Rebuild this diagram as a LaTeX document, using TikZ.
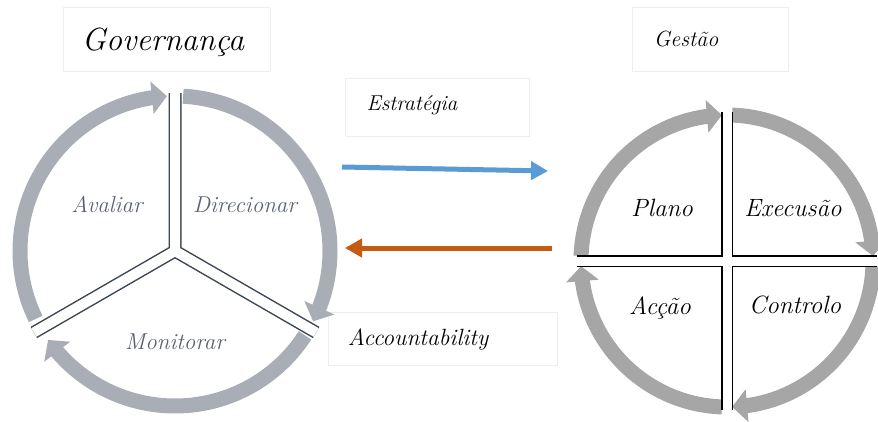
\documentclass[tikz,border=0pt]{standalone}
\usetikzlibrary{arrows.meta,bending}
\definecolor{ringL}{HTML}{A9ADB5}
\definecolor{ringR}{HTML}{A6A6A6}
\definecolor{sepL}{HTML}{3F4756}
\definecolor{lblL}{HTML}{596173}
\definecolor{boxline}{HTML}{EDEDED}
\definecolor{arrBlue}{HTML}{5B9BD5}
\definecolor{arrOrange}{HTML}{C55A11}
\begin{document}
\begin{tikzpicture}[x=1pt,y=-1pt,
  ringarrowL/.style={draw=ringL,line width=15pt,-{Triangle[length=15pt,width=32pt,flex]}},
  ringarrowR/.style={draw=ringR,line width=15pt,-{Triangle[length=15pt,width=32pt,flex]}},
  titlebox/.style={draw=boxline,line width=1pt,fill=white},
  lblleft/.style={font=\itshape\fontsize{23}{26}\selectfont,text=lblL},
  lblright/.style={font=\itshape\fontsize{25}{28}\selectfont},
  flowarrow/.style={line width=5pt,-{Triangle[length=17pt,width=18pt]}}]
\useasboundingbox (0,0) rectangle (878,421);

% ---------- title boxes ----------
\draw[titlebox] (63,7) rectangle (270,71);
\node[font=\itshape\fontsize{32}{36}\selectfont] (gov) at (163,42) {Governança};
\draw[titlebox] (632,7) rectangle (788,71);
\node[font=\itshape\fontsize{22}{25}\selectfont] (ges) at (686,39) {Gestão};
\draw[titlebox] (345,78) rectangle (529,136);
\node[font=\itshape\fontsize{21.5}{24}\selectfont] (est) at (412,105) {Estratégia};
\draw[titlebox] (328,312) rectangle (557,365);
\node[font=\itshape\fontsize{23.5}{26}\selectfont] (acc) at (418,340) {Accountability};

% ---------- left circle (governance) ----------
\coordinate (L) at (175,251);
\draw[ringarrowL] ([shift={(154:155)}]L) arc[start angle=154,end angle=267,radius=155];
\draw[ringarrowL] ([shift={(-87:155)}]L) arc[start angle=-87,end angle=27,radius=155];
\draw[ringarrowL] ([shift={(33:155)}]L) arc[start angle=33,end angle=145,radius=155];
\coordinate (Ju) at ([shift={(-90:158)}]L);
\coordinate (Jr) at ([shift={(30:163)}]L);
\coordinate (Jl) at ([shift={(150:163)}]L);
\draw[sepL,line width=13pt,line join=miter] (Ju) -- (L) -- (Jr) (L) -- (Jl);
\draw[white,line width=10pt,line join=miter] (Ju) -- (L) -- (Jr) (L) -- (Jl);
\node[lblleft] (ava) at (107,204) {Avaliar};
\node[lblleft] (dir) at (245,205) {Direcionar};
\node[lblleft] (mon) at (175,342) {Monitorar};

% ---------- right circle (management) ----------
\coordinate (R) at (727,261);
\draw[ringarrowR] ([shift={(182:146)}]R) arc[start angle=182,end angle=268,radius=146];
\draw[ringarrowR] ([shift={(272:146)}]R) arc[start angle=272,end angle=358,radius=146];
\draw[ringarrowR] ([shift={(2:146)}]R) arc[start angle=2,end angle=88,radius=146];
\draw[ringarrowR] ([shift={(92:146)}]R) arc[start angle=92,end angle=178,radius=146];
\coordinate (Rt) at (727,112);
\coordinate (Rb) at (727,410);
\coordinate (Rl) at (577,261);
\coordinate (Rr) at (877,261);
\draw[black,line width=12pt] (Rt) -- (Rb) (Rl) -- (Rr);
\draw[white,line width=9pt] (Rt) -- (Rb) (Rl) -- (Rr);
\node[lblright] (pla) at (662,208) {Plano};
\node[lblright] (exe) at (793,208) {Execusão};
\node[lblright] (acs) at (660,308) {Acção};
\node[lblright] (con) at (795,305) {Controlo};

% ---------- flow arrows ----------
\coordinate (bs) at (342,167);
\coordinate (be) at (548,171);
\coordinate (os) at (552,248);
\coordinate (oe) at (345,248);
\draw[flowarrow,arrBlue] (bs) -- (be);
\draw[flowarrow,arrOrange] (os) -- (oe);
\end{tikzpicture}
\end{document}
